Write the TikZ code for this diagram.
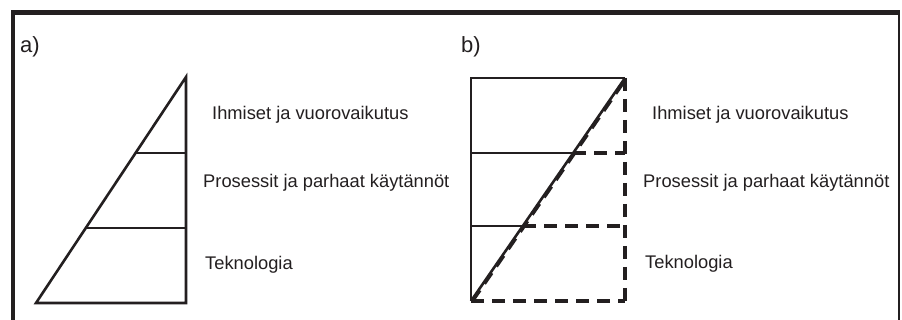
\documentclass[tikz,border=0pt]{standalone}
\usepackage{fontspec}
\setmainfont{Liberation Sans}
\definecolor{ink}{HTML}{231F20}
\begin{document}
\begin{tikzpicture}[x=1pt,y=-1pt,
  frame/.style={draw=ink,line width=4.5pt},
  frameR/.style={draw=ink,line width=2pt},
  solidln/.style={draw=ink,line width=2.6pt,line cap=butt,line join=miter},
  dashln/.style={draw=ink,line width=3.4pt,dash pattern=on 13pt off 8pt},
  lbl/.style={anchor=base west,inner sep=0pt,text=ink,font=\fontsize{18.3}{21}\selectfont},
  tag/.style={anchor=base west,inner sep=0pt,text=ink,font=\fontsize{22}{25}\selectfont}]
\useasboundingbox (0,0) rectangle (902,320);
\fill[white] (0,0) rectangle (902,320);
% frame
\coordinate (fTL) at (13,12.5);
\coordinate (fTR) at (899,12.5);
\coordinate (fBL) at (13,322);
\coordinate (fBR) at (899,322);
\draw[frame] (fBL) -- (fTL) -- ([xshift=1pt]fTR);
\draw[frameR] (fTR) -- (fBR);
% labels
\node[tag] (la) at (20,53) {a)};
\node[tag] (lb) at (461,53) {b)};
% diagram a
\coordinate (aT) at (186,77);
\coordinate (aBL) at (36,303);
\coordinate (aBR) at (186,303);
\coordinate (a1L) at (86,228);
\coordinate (a1R) at (186,228);
\coordinate (a2L) at (136,153);
\coordinate (a2R) at (186,153);
\draw[solidln] (aT) -- (aBL) -- (aBR) -- cycle;
\draw[solidln] (a1L) -- (a1R);
\draw[solidln] (a2L) -- (a2R);
\node[lbl] (ta1) at (212,120) {Ihmiset ja vuorovaikutus};
\node[lbl] (ta2) at (203,188) {Prosessit ja parhaat käytännöt};
\node[lbl] (ta3) at (205,270) {Teknologia};
% diagram b
\coordinate (bTL) at (471,78);
\coordinate (bTR) at (625,78);
\coordinate (bBL) at (471,301);
\coordinate (bBR) at (625,301);
\coordinate (b1L) at (471,153);
\coordinate (b1M) at (573,153);
\coordinate (b1R) at (625,153);
\coordinate (b2L) at (471,226);
\coordinate (b2M) at (523,226);
\coordinate (b2R) at (625,226);
\draw[solidln] (bBL) -- (bTL) -- (bTR);
\draw[solidln] (bBL) -- (bTR);
\draw[dashln] ([xshift=1.5pt]bBL) -- ([xshift=1.5pt]bTR);
\draw[solidln] (b1L) -- (b1M);
\draw[solidln] (b2L) -- (b2M);
\draw[dashln] (b1M) -- (b1R);
\draw[dashln] (b2M) -- (b2R);
\draw[dashln] (bTR) -- (bBR);
\draw[dashln] (bBL) -- (bBR);
\node[lbl] (tb1) at (652,120) {Ihmiset ja vuorovaikutus};
\node[lbl] (tb2) at (643,188) {Prosessit ja parhaat käytännöt};
\node[lbl] (tb3) at (645,269) {Teknologia};
\end{tikzpicture}
\end{document}
